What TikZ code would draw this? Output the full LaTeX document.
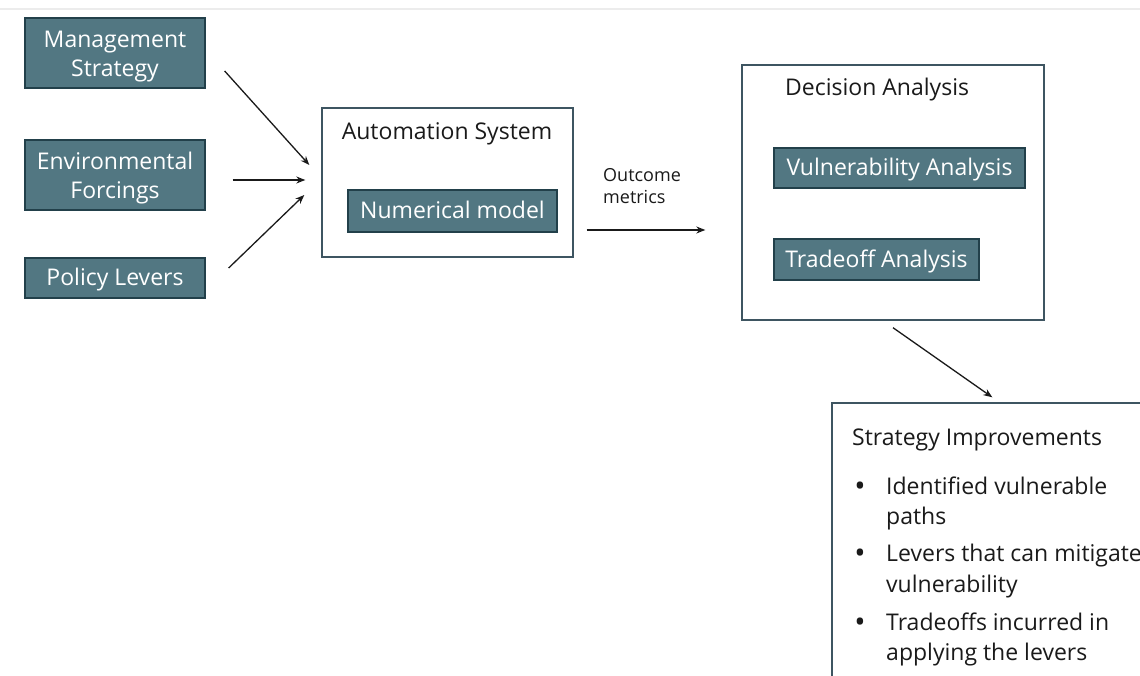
\documentclass[tikz,border=0pt]{standalone}
\usepackage{fontspec}
\setmainfont{Open Sans}
\usetikzlibrary{calc,arrows.meta}
\definecolor{tealfill}{HTML}{527782}
\definecolor{tealedge}{HTML}{22404A}
\definecolor{framecol}{HTML}{3E5561}
\definecolor{ink}{HTML}{1A1A1A}
\begin{document}
\begin{tikzpicture}[x=1pt,y=-1pt,
  tbox/.style={draw=tealedge,line width=1.3pt,fill=tealfill,text=white,
    font=\fontsize{23}{29}\selectfont,align=center,inner sep=0pt,
    text height=20pt,text depth=4pt},
  tboxtwo/.style={tbox,text height=53pt,text depth=5pt},
  frm/.style={draw=framecol,line width=1.4pt,fill=white,inner sep=0pt},
  lbl/.style={text=ink,font=\fontsize{23}{29}\selectfont,inner sep=0pt},
  bul/.style={text=ink,font=\fontsize{30}{30}\selectfont,inner sep=0pt},
  small/.style={text=ink,font=\fontsize{18}{22}\selectfont,inner sep=0pt,align=left},
  arr/.style={-{Stealth[length=9pt,width=7pt]},line width=1.3pt,draw=ink}]
\useasboundingbox[fill=white] (0,0) rectangle (1140,676);
\draw[gray!15,line width=2pt] (0,9) -- (1140,9);

% input boxes
\node[tboxtwo,minimum width=180pt,minimum height=70pt] (ms) at (115,53) {Management\\Strategy};
\node[tboxtwo,minimum width=180pt,minimum height=70pt] (ef) at (115,175) {Environmental\\Forcings};
\node[tbox,minimum width=180pt,minimum height=40pt] (pl) at (115,278) {Policy Levers};

% automation system
\node[frm,minimum width=251pt,minimum height=149pt] (auto) at (447.5,182.5) {};
\node[lbl,anchor=base] (autot) at (447,140) {Automation System};
\node[tbox,minimum width=209pt,minimum height=42pt] (nm) at (452.5,211) {Numerical model};

% decision analysis
\node[frm,minimum width=302pt,minimum height=255pt] (da) at (893,192.5) {};
\node[lbl,anchor=base west] (dat) at (785,96) {Decision Analysis};
\node[tbox,minimum width=251pt,minimum height=40pt] (va) at (899.5,168) {Vulnerability Analysis};
\node[tbox,minimum width=205pt,minimum height=41pt] (ta) at (876.5,259.5) {Tradeoff Analysis};

% outcome metrics label
\node[small,anchor=north west] (om) at (603,168) {Outcome\\metrics};

% strategy improvements
\node[frm,minimum width=330pt,minimum height=300pt] (si) at (997,553) {};
\node[lbl,anchor=base west] (sit) at (852,445) {Strategy Improvements};
\node[bul,anchor=base] (b1) at (860,496) {•};
\node[bul,anchor=base] (b2) at (860,563) {•};
\node[bul,anchor=base] (b3) at (860,632) {•};
\node[lbl,anchor=base west] (l1) at (886,494) {Identified vulnerable};
\node[lbl,anchor=base west] (l2) at (886,524) {paths};
\node[lbl,anchor=base west] (l3) at (886,561) {Levers that can mitigate};
\node[lbl,anchor=base west] (l4) at (886,592) {vulnerability};
\node[lbl,anchor=base west] (l5) at (886,630) {Tradeoffs incurred in};
\node[lbl,anchor=base west] (l6) at (886,660) {applying the levers};

% connectors
\draw[arr] ($(ms.east)+(19,18)$) -- ($(auto.west)+(-12,-17.5)$);
\draw[arr] ($(ef.east)+(27,5)$) -- ($(auto.west)+(-16,-2.5)$);
\draw[arr] ($(pl.east)+(23,-10)$) -- ($(auto.west)+(-17,12.5)$);
\draw[arr] ($(auto.east)+(13,47.5)$) -- ($(da.west)+(-36,37.5)$);
\draw[arr] ($(da.south)+(0,7)$) -- ($(si.north west)+(161,-5)$);
\end{tikzpicture}
\end{document}
